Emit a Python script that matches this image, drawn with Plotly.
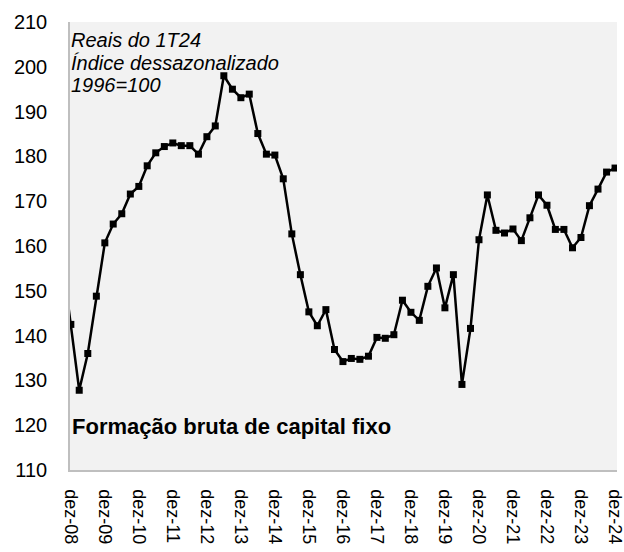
import pandas as pd
import plotly.graph_objects as go

# Quarterly index, set-08 (clipped at the left edge) to dez-24
quarters = pd.date_range("2008-09-01", periods=66, freq="3MS")
fbcf = [157.0,
        142.5, 127.8, 136.0, 148.8, 160.7, 164.9, 167.2, 171.6, 173.3, 177.9,
        180.8, 182.2, 183.0, 182.4, 182.4, 180.5, 184.4, 186.8, 198.0, 195.0,
        193.1, 193.9, 185.1, 180.5, 180.3, 175.0, 162.7, 153.6, 145.3, 142.2,
        145.8, 136.9, 134.2, 134.9, 134.7, 135.4, 139.6, 139.4, 140.2, 147.9,
        145.2, 143.4, 151.0, 155.1, 146.2, 153.6, 129.1, 141.6, 161.4, 171.4,
        163.5, 162.9, 163.8, 161.2, 166.3, 171.4, 169.1, 163.7, 163.7, 159.6,
        161.9, 169.0, 172.7, 176.5, 177.4]
tick_dates = pd.date_range("2008-12-01", periods=17, freq="12MS")
tick_labels = ["dez-%02d" % (y % 100) for y in range(2008, 2025)]
y_ticks = list(range(110, 211, 10))

font_family = "Liberation Sans, Arial, sans-serif"

fig = go.Figure()
fig.add_trace(go.Scatter(
    x=quarters, y=fbcf, mode="lines+markers",
    line=dict(color="#000000", width=2.5),
    marker=dict(symbol="square", size=7, color="#000000"),
    showlegend=False,
))

fig.update_layout(
    width=624, height=552,
    margin=dict(l=70, r=7, t=22, b=82),
    paper_bgcolor="#ffffff",
    plot_bgcolor="#f2f2f2",
    font=dict(family=font_family, color="#000000"),
    xaxis=dict(
        range=["2008-11-22", "2024-12-22"],
        tickvals=tick_dates, ticktext=tick_labels,
        tickangle=90, tickfont=dict(size=18),
        ticklabeloverflow="allow",
        showgrid=False, zeroline=False,
        showline=True, linecolor="#bfbfbf", linewidth=1.5,
        ticks="outside", ticklen=14, tickcolor="rgba(0,0,0,0)",
        automargin=False,
    ),
    yaxis=dict(
        range=[110, 210], tickvals=y_ticks,
        tickfont=dict(size=20),
        showgrid=False, zeroline=False,
        showline=True, linecolor="#bfbfbf", linewidth=1.5,
        ticks="outside", ticklen=17, tickcolor="rgba(0,0,0,0)",
        automargin=False,
    ),
)

notes = ["Reais do 1T24", "Índice dessazonalizado", "1996=100"]
note_y = [0.959, 0.909, 0.860]
for txt, yy in zip(notes, note_y):
    fig.add_annotation(
        text="<i>%s</i>" % txt, xref="paper", yref="paper",
        x=-0.002, y=yy, xanchor="left", yanchor="middle",
        showarrow=False, font=dict(size=20, family=font_family, color="#000000"),
    )

fig.add_annotation(
    text="<b>Formação bruta de capital fixo</b>", xref="paper", yref="paper",
    x=0.0, y=0.096, xanchor="left", yanchor="middle",
    showarrow=False, font=dict(size=22, family=font_family, color="#000000"),
)

fig.write_html("out.html", config={"displayModeBar": False},
               post_script="document.body.style.margin='0';")
